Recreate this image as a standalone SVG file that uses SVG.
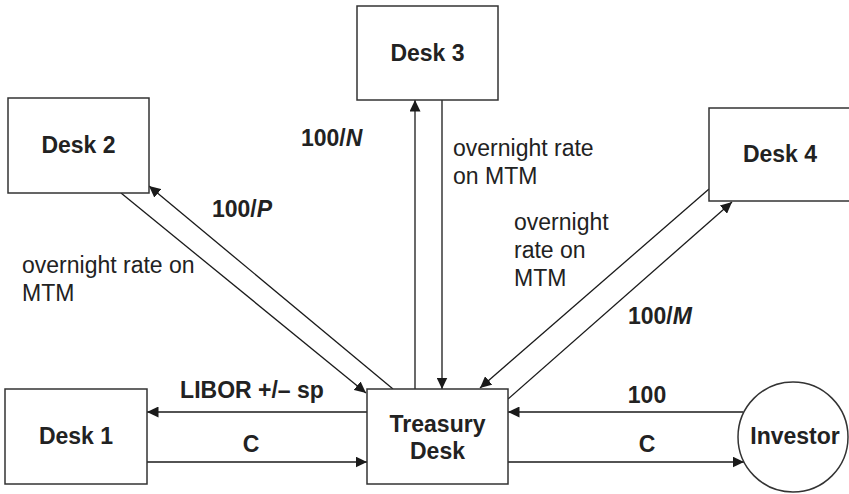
<svg xmlns="http://www.w3.org/2000/svg" width="849" height="494" viewBox="0 0 849 494">
  <defs>
    <marker id="arrow" markerUnits="userSpaceOnUse" markerWidth="12" markerHeight="11" refX="11.5" refY="5.5" orient="auto">
      <path d="M0,0 L11.5,5.5 L0,11 z" fill="#1a1a1a"/>
    </marker>
    <style>
      .box { fill: #fff; stroke: #333; stroke-width: 1.5; }
      .edge { fill: none; stroke: #1a1a1a; stroke-width: 1.3; marker-end: url(#arrow); }
      .plain { fill: none; stroke: #1a1a1a; stroke-width: 1.3; }
      .b { font-family: "Liberation Sans", Arial, sans-serif; font-weight: bold; font-size: 23px; fill: #222; }
      .r { font-family: "Liberation Sans", Arial, sans-serif; font-size: 23px; fill: #222; }
      .c { text-anchor: middle; }
      .i { font-style: italic; }
    </style>
  </defs>

  <rect width="849" height="494" fill="#fff"/>

  <!-- connectors -->
  <g id="connectors">
    <!-- Desk 2 <-> Treasury -->
    <line class="edge" x1="121" y1="193" x2="366" y2="393"/>
    <line class="edge" x1="393" y1="389" x2="149" y2="186"/>
    <!-- Desk 3 <-> Treasury -->
    <line class="edge" x1="415" y1="389" x2="415" y2="100"/>
    <line class="edge" x1="442" y1="100" x2="442" y2="389"/>
    <!-- Desk 4 <-> Treasury -->
    <line class="edge" x1="709" y1="189" x2="480" y2="388"/>
    <line class="edge" x1="508" y1="399" x2="732" y2="202"/>
    <!-- Desk 1 <-> Treasury -->
    <line class="edge" x1="367" y1="412" x2="147" y2="412"/>
    <line class="edge" x1="147" y1="462" x2="367" y2="462"/>
    <!-- Investor <-> Treasury -->
    <line class="edge" x1="743" y1="412" x2="508" y2="412"/>
    <line class="edge" x1="508" y1="462" x2="744" y2="462"/>

    <!-- connector labels -->
    <text class="b" x="212" y="217">100/<tspan class="i">P</tspan></text>
    <text class="r" x="22" y="273">overnight rate on</text>
    <text class="r" x="22" y="301">MTM</text>

    <text class="b" x="301" y="146">100/<tspan class="i">N</tspan></text>
    <text class="r" x="453" y="156">overnight rate</text>
    <text class="r" x="453" y="184">on MTM</text>

    <text class="r" x="514" y="230">overnight</text>
    <text class="r" x="514" y="258">rate on</text>
    <text class="r" x="514" y="286">MTM</text>
    <text class="b" x="628" y="324">100/<tspan class="i">M</tspan></text>

    <text class="b c" x="252" y="398">LIBOR +/– sp</text>
    <text class="b c" x="251" y="452">C</text>
    <text class="b c" x="647" y="403">100</text>
    <text class="b c" x="647" y="452">C</text>
  </g>

  <!-- nodes -->
  <g id="desk1">
    <rect class="box" x="5" y="389" width="142" height="95"/>
    <text class="b c" x="76" y="444">Desk 1</text>
  </g>
  <g id="desk2">
    <rect class="box" x="8" y="98" width="141" height="95"/>
    <text class="b c" x="78.5" y="153">Desk 2</text>
  </g>
  <g id="desk3">
    <rect class="box" x="357" y="6" width="141" height="94"/>
    <text class="b c" x="427.5" y="61">Desk 3</text>
  </g>
  <g id="desk4">
    <rect class="box" x="709" y="108" width="142" height="93"/>
    <text class="b c" x="780" y="162">Desk 4</text>
  </g>
  <g id="treasury">
    <rect class="box" x="367" y="389" width="141" height="95"/>
    <text class="b c" x="437.5" y="432">Treasury</text>
    <text class="b c" x="437.5" y="459">Desk</text>
  </g>
  <g id="investor">
    <circle class="box" cx="793" cy="437" r="55"/>
    <text class="b c" x="795" y="444">Investor</text>
  </g>
</svg>
